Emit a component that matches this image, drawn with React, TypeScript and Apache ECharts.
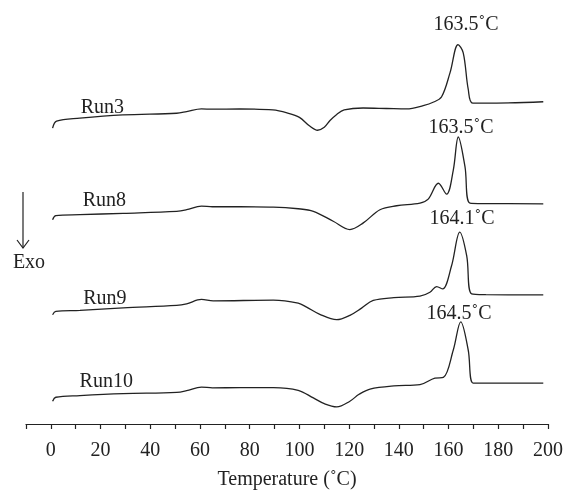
import React, { useEffect, useRef } from "react";
import * as echarts from "echarts";

// Temperature (°C) vs heat flow (arbitrary units, curves offset vertically)
const run3: [number, number][] = [
  [0.7, 298.7], [2.3, 305.7], [11.7, 308.7], [29, 312], [50.6, 313.7], [54.6, 315.3],
  [60.6, 318], [65, 317.8], [76, 318], [89.3, 317], [95, 314], [100, 309.5], [104, 301],
  [107.3, 296.5], [110, 299.5], [112.3, 306.3], [115, 312.5], [118, 317], [125.6, 319],
  [135, 318.5], [143.1, 318], [149.8, 321.3], [154, 325], [157.2, 330.3], [160.6, 354.7],
  [163.8, 383], [165.9, 374.7], [167.9, 338], [169.7, 324], [179.4, 324], [198.1, 325.3],
];
const run8: [number, number][] = [
  [0.7, 206.3], [2, 210.3], [11.7, 211.3], [29.1, 212.7], [50.6, 214.7], [54.6, 216.3],
  [60.6, 220], [65, 219.3], [76.1, 219.3], [89.5, 219], [99.5, 217.3], [105.6, 214.7],
  [113.6, 204.7], [120.3, 196.3], [125.7, 203], [132.4, 216.3], [139.1, 220.3],
  [148.5, 223], [151.8, 227], [155.9, 243], [159.2, 232], [161.9, 256.3], [163.9, 289.7],
  [166.6, 259.7], [168.6, 223], [175, 222.5], [198.1, 222.3],
];
const run9: [number, number][] = [
  [0.7, 110.3], [2, 113.7], [11.7, 114.7], [29.1, 117.3], [50.6, 119.7], [54.6, 121.3],
  [60.6, 125.7], [65.3, 124.3], [89.5, 125], [99.5, 122], [102.9, 118], [108, 111],
  [115, 105.3], [120.3, 109.7], [125, 117], [129.7, 124.7], [138, 127.5], [148.5, 129],
  [152.5, 133], [155.2, 138.7], [157.6, 136.3], [161.2, 159.7], [164.5, 193.7],
  [167.3, 169.7], [169.3, 131.3], [175, 130.5], [198.1, 130.3],
];
const run10: [number, number][] = [
  [0.7, 23], [2, 27], [11.7, 28.7], [29.1, 30.7], [50.6, 32], [54.6, 33.7], [60.6, 37.3],
  [65, 36.5], [76.1, 36.7], [89.5, 36.7], [99.5, 34], [105.6, 26.3], [110, 20.5],
  [115, 17.3], [120.3, 23], [124, 30], [128.4, 35.3], [138, 38.5], [148.5, 39.7],
  [154.5, 46.3], [157.9, 47], [161.9, 74.7], [164.9, 103], [167.9, 74.7], [169.9, 41.3],
  [175, 41.3], [198.1, 41.3],
];

const runNames = ["Run3", "Run8", "Run9", "Run10"];
const runNameAt: [number, number][] = [[20.7, 321], [21.5, 227], [21.7, 128], [22.3, 44]];
const peakLabels = ["163.5˚C", "163.5˚C", "164.1˚C", "164.5˚C"];
const peakLabelAt: [number, number][] = [[167, 405], [165, 301], [165.4, 209], [164.2, 113]];

const FONT = "'Liberation Serif', 'DejaVu Serif', serif";
const INK = "#222222";
const FS = 20;

export default function App() {
  const ref = useRef<HTMLDivElement>(null);
  useEffect(() => {
    if (!ref.current) return;
    const chart = echarts.init(ref.current, undefined, { renderer: "svg" });
    const runs = [run3, run8, run9, run10];
    const lineSeries = runs.map((d, i) => ({
      type: "line",
      name: runNames[i],
      data: d,
      smooth: 0.35,
      showSymbol: false,
      symbol: "none",
      lineStyle: { color: INK, width: 1.3 },
    }));
    const textSeries = (pts: [number, number][], texts: string[]) => ({
      type: "scatter",
      symbolSize: 0,
      silent: true,
      itemStyle: { opacity: 1 },
      data: pts.map((p, i) => ({ value: p, name: texts[i] })),
      label: {
        show: true,
        position: "inside",
        formatter: (p: any) => p.name,
        color: INK,
        opacity: 1,
        fontFamily: FONT,
        fontSize: FS,
      },
    });
    chart.setOption({
      animation: false,
      grid: { left: 26, right: 21, top: 0, bottom: 65, containLabel: false },
      xAxis: {
        type: "value",
        min: -10,
        max: 200,
        interval: 10,
        name: "Temperature (˚C)",
        nameLocation: "middle",
        nameGap: 44,
        nameTextStyle: { color: INK, fontFamily: FONT, fontSize: 20 },
        axisLine: { lineStyle: { color: INK, width: 1.2 } },
        axisTick: { show: true, length: 5, inside: false, lineStyle: { color: INK, width: 1.2 } },
        axisLabel: {
          color: INK,
          fontFamily: FONT,
          fontSize: FS,
          margin: 15,
          formatter: (v: number) => (v >= 0 && v % 20 === 0 ? String(v) : ""),
        },
        splitLine: { show: false },
      },
      yAxis: {
        type: "value",
        min: 0,
        max: 428,
        show: false,
        splitLine: { show: false },
      },
      series: [
        ...lineSeries,
        textSeries(runNameAt, runNames),
        textSeries(peakLabelAt, peakLabels),
      ],
      graphic: [
        { type: "line", shape: { x1: 23, y1: 192, x2: 23, y2: 248 }, style: { stroke: INK, lineWidth: 1.2 } },
        { type: "polyline", shape: { points: [[17, 240], [23, 248], [29, 240]] }, style: { stroke: INK, lineWidth: 1.2, fill: null } },
        { type: "text", x: 29, y: 261, style: { text: "Exo", fill: INK, font: `${FS}px ${FONT}`, textAlign: "center", textVerticalAlign: "middle" } },
      ],
    });
    return () => chart.dispose();
  }, []);
  return <div ref={ref} style={{ position: "fixed", left: 0, top: 0, width: 569, height: 493 }} />;
}
